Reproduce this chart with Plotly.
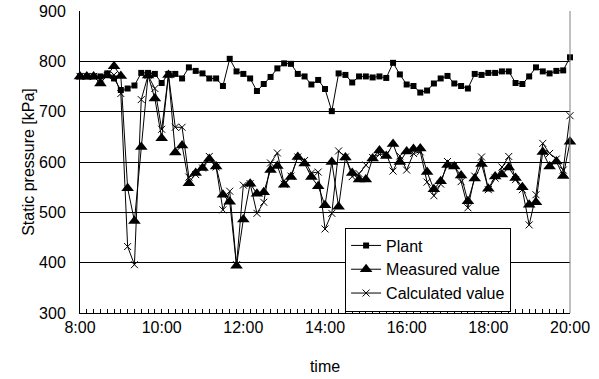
import pandas as pd
import plotly.graph_objects as go

# Sampling times: every 10 minutes from 8:00 to 20:00
times = pd.date_range("2000-01-01 08:00", "2000-01-01 20:00", freq="10min")

# Static pressure [kPa]
plant = [
    770, 770, 770, 770, 776, 766, 743, 746, 752, 777,
    777, 775, 757, 775, 775, 766, 788, 781, 776, 766,
    766, 751, 805, 780, 775, 766, 741, 755, 769, 786,
    796, 795, 775, 770, 754, 763, 745, 701, 776, 773,
    758, 770, 770, 768, 770, 767, 797, 774, 754, 751,
    738, 742, 756, 766, 771, 756, 751, 746, 775, 773,
    777, 777, 780, 780, 757, 755, 770, 788, 780, 776,
    781, 782, 808,
]
measured = [
    770, 770, 770, 756, 772, 790, 771, 548, 483, 630,
    772, 726, 647, 773, 619, 633, 558, 578, 588, 606,
    591, 535, 521, 394, 486, 557, 537, 540, 584, 592,
    555, 570, 610, 597, 570, 552, 514, 600, 511, 609,
    578, 565, 565, 607, 623, 612, 636, 600, 621, 626,
    627, 580, 546, 562, 594, 591, 573, 522, 567, 596,
    547, 571, 575, 589, 568, 550, 515, 520, 620, 591,
    601, 572, 640,
]
calculated = [
    770, 770, 770, 765, 772, 773, 736, 432, 396, 724,
    772, 746, 665, 773, 669, 669, 570, 575, 588, 611,
    590, 505, 542, 396, 554, 557, 498, 520, 598, 618,
    556, 572, 610, 603, 578, 580, 467, 498, 622, 610,
    571, 577, 594, 609, 615, 616, 582, 612, 584, 617,
    620, 560, 533, 556, 601, 593, 561, 509, 572, 610,
    545, 568, 590, 611, 565, 545, 475, 535, 637, 617,
    606, 584, 692,
]

FONT = "Arial, Liberation Sans, sans-serif"

fig = go.Figure()
fig.add_trace(go.Scatter(
    x=times, y=plant, name="Plant", mode="lines+markers",
    line=dict(color="black", width=1),
    marker=dict(symbol="square", size=6, color="black"),
    cliponaxis=False,
))
fig.add_trace(go.Scatter(
    x=times, y=measured, name="Measured value", mode="lines+markers",
    line=dict(color="black", width=1),
    marker=dict(symbol="triangle-up", size=11, color="black"),
    cliponaxis=False,
))
fig.add_trace(go.Scatter(
    x=times, y=calculated, name="Calculated value", mode="lines+markers",
    line=dict(color="black", width=1),
    marker=dict(symbol="x-thin", size=7, color="black",
                line=dict(color="black", width=1)),
    cliponaxis=False,
))

fig.update_layout(
    width=599, height=379,
    margin=dict(l=80, r=29, t=11, b=66),
    paper_bgcolor="white", plot_bgcolor="white",
    font=dict(family=FONT, size=16, color="black"),
    showlegend=True,
    legend=dict(
        x=0.541, y=0.283, xanchor="left", yanchor="top",
        bgcolor="white", bordercolor="black", borderwidth=1,
        font=dict(family=FONT, size=16, color="black"),
        itemwidth=30, tracegroupgap=0,
    ),
)

fig.update_xaxes(
    range=[times[0], times[-1]],
    tickformat="%-H:%M",
    dtick=2 * 3600 * 1000,
    tick0=times[0],
    ticks="inside", ticklen=4, tickcolor="black",
    minor=dict(dtick=600 * 1000, ticks="inside", ticklen=4, tickcolor="black"),
    showline=True, linecolor="black", linewidth=1,
    showgrid=False, zeroline=False,
    automargin=False,
    title=dict(text="time", font=dict(size=16), standoff=25),
    tickfont=dict(size=16),
)
fig.update_yaxes(
    range=[300, 900], dtick=100,
    showline=True, linecolor="black", linewidth=1,
    showgrid=True, gridcolor="black", gridwidth=1,
    ticks="", zeroline=False,
    automargin=False,
    ticklabelstandoff=10,
    title=dict(text="Static pressure [kPa]", font=dict(size=16), standoff=0),
    tickfont=dict(size=16),
)

# plot area border on the right
fig.add_shape(type="line", xref="paper", yref="paper",
              x0=1, x1=1, y0=0, y1=1,
              line=dict(color="#808080", width=1))

fig.write_html("out.html")
